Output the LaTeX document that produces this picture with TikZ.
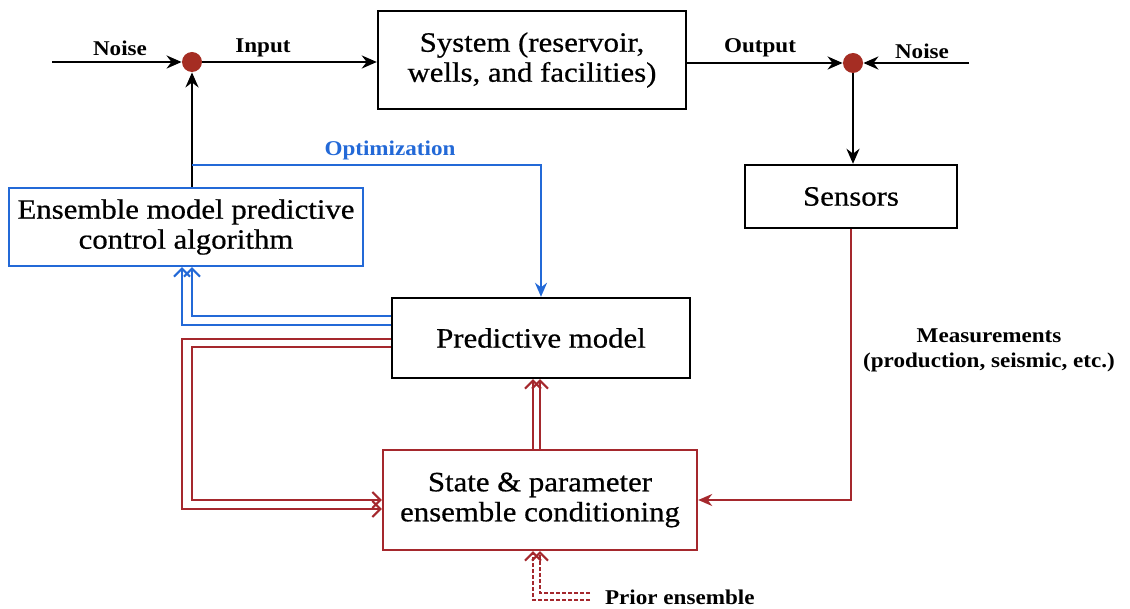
\documentclass[tikz,border=0pt]{standalone}
\usepackage{fontspec}
\setmainfont{Liberation Serif}[FakeStretch=1.1]
\newfontfamily\boxfont{Liberation Serif}[FakeStretch=1.1,FakeBold=0.6]
\usetikzlibrary{arrows.meta,calc}
\definecolor{dred}{RGB}{165,40,45}
\definecolor{mblue}{RGB}{35,105,215}
\definecolor{dotred}{RGB}{165,45,35}
\begin{document}
\begin{tikzpicture}[x=0.5pt,y=-0.5pt,
  box/.style={draw, line width=1.2pt, inner sep=0pt, align=center, font=\boxfont\fontsize{14}{15}\selectfont},
  blk/.style={line width=1.2pt, -{Stealth[length=7.5pt,width=6.5pt]}},
  lbl/.style={font=\bfseries\fontsize{10.5}{12}\selectfont},
  rd/.style={dred, line width=1pt},
  bl/.style={mblue, line width=1pt},
  barb/.style={-{Straight Barb[length=4pt,width=8pt]}},
  sumdot/.style={circle, fill=dotred, minimum size=10pt, inner sep=0pt},
]
\useasboundingbox (0,0) rectangle (1130,609);
% boxes
\node[box, minimum width=154pt, minimum height=49pt] (sys) at (532,60) {System (reservoir,\\wells, and facilities)};
\node[box, minimum width=106pt, minimum height=31.5pt] (sen) at (851,196.5) {Sensors};
\node[box, draw=mblue, minimum width=177pt, minimum height=39pt] (ens) at (186,227) {Ensemble model predictive\\control algorithm};
\node[box, minimum width=149pt, minimum height=40pt] (pm) at (541,338) {Predictive model};
\node[box, draw=dred, minimum width=157pt, minimum height=50pt] (st) at (540,500) {State \& parameter\\ensemble conditioning};
% summing points
\node[sumdot] (d1) at (192,62) {};
\node[sumdot] (d2) at (853,63) {};
\coordinate (nL) at (52,62);
\coordinate (nR) at (969,63);
% black connectors
\draw[blk] (nL) -- (d1);
\draw[blk] (d1) -- (sys.west |- d1);
\draw[blk] (sys.east |- d2) -- (d2);
\draw[blk] (nR) -- (d2);
\draw[blk] (d2) -- (sen.north -| d2);
\draw[blk] (ens.north -| d1) -- (d1);
% labels
\node[lbl] (l1) at (120,48) {Noise};
\node[lbl] (l2) at (263,48) {Input};
\node[lbl] (l3) at (760,48) {Output};
\node[lbl] (l4) at (922,51) {Noise};
\node[lbl, text=mblue] (l5) at (390,150) {Optimization};
\node[lbl, align=center, font=\bfseries\fontsize{10.5}{12.5}\selectfont] (l6) at (989,350) {Measurements\\(production, seismic, etc.)};
\node[lbl, anchor=west] (l7) at (598,597) {Prior ensemble};
% optimization (blue)
\coordinate (o1) at (192,165);
\draw[bl, -{Stealth[length=7pt,width=6pt]}] (o1) -| (pm.north);
% blue double from predictive model to ensemble
\draw[bl, barb] (pm.west |- 0,316) -| (ens.south -| 192,0);
\draw[bl, barb] (pm.west |- 0,325) -| (ens.south -| 182,0);
% red double from predictive model to state
\draw[rd, barb] (pm.west |- 0,339) -| (182,509) -- (st.west |- 0,509);
\draw[rd, barb] (pm.west |- 0,347) -| (192,500) -- (st.west |- 0,500);
% red double from state up to predictive model
\draw[rd, barb] (st.north -| 533,0) -- (pm.south -| 533,0);
\draw[rd, barb] (st.north -| 540,0) -- (pm.south -| 540,0);
% measurements
\draw[rd, -{Stealth[length=7pt,width=6pt]}] (sen.south) |- (st.east);
% prior ensemble
\draw[rd, barb, dash pattern=on 2pt off 1pt] (590,600) -| (st.south -| 533,0);
\draw[rd, barb, dash pattern=on 2pt off 1pt] (590,593) -| (st.south -| 540,0);
\end{tikzpicture}
\end{document}
